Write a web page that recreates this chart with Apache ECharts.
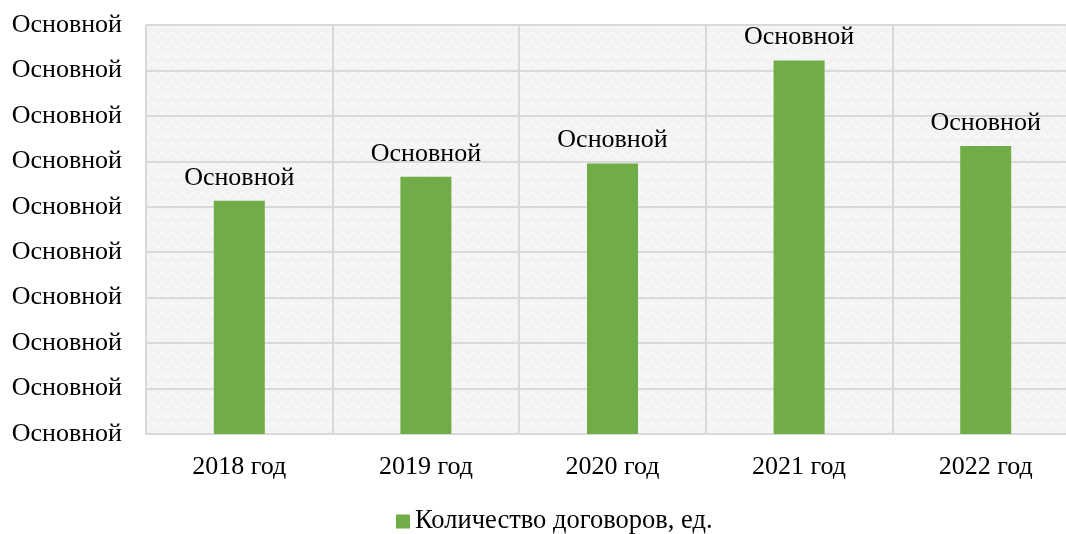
<!DOCTYPE html>
<html>
<head>
<meta charset="utf-8">
<script src="https://cdn.jsdelivr.net/npm/echarts@6/dist/echarts.min.js"></script>
<style>
    html, body { margin: 0; padding: 0; background: #fff; }
    #main { width: 1066px; height: 534px; }
</style>
</head>
<body>
<div id="main"></div>
<script>
    // данные
    var categories = ['2018 год', '2019 год', '2020 год', '2021 год', '2022 год'];
    var contracts = [5.13, 5.66, 5.95, 8.22, 6.34];
    var yTickLabels = ['Основной', 'Основной', 'Основной', 'Основной', 'Основной',
                       'Основной', 'Основной', 'Основной', 'Основной', 'Основной'];
    var barLabel = 'Основной';
    var seriesName = 'Количество договоров, ед.';

    // текстура фона
    var tex = document.createElement('canvas');
    tex.width = 10; tex.height = 10;
    var c = tex.getContext('2d');
    c.fillStyle = '#f3f3f3';
    c.fillRect(0, 0, 10, 10);
    c.strokeStyle = '#f9f9f9';
    c.lineWidth = 1.5;
    c.beginPath();
    c.moveTo(0, 5); c.quadraticCurveTo(2.5, 0, 5, 5); c.quadraticCurveTo(7.5, 10, 10, 5);
    c.stroke();

    var myChart = echarts.init(document.getElementById('main'));
    var font = 'Liberation Serif';
    var option = {
        textStyle: { fontFamily: font },
        grid: {
            left: 146, right: -13, top: 25, bottom: 100,
            outerBoundsMode: 'none',
            show: true,
            backgroundColor: { image: tex, repeat: 'repeat' },
            borderColor: '#d9d9d9',
            borderWidth: 1
        },
        legend: {
            bottom: -6,
            left: 391,
            itemWidth: 14, itemHeight: 14,
            itemGap: 6,
            icon: 'rect',
            textStyle: { fontFamily: font, fontSize: 26.5, color: '#000' },
            data: [seriesName]
        },
        xAxis: {
            type: 'category',
            data: categories,
            axisLine: { show: true, lineStyle: { color: '#d9d9d9' } },
            axisTick: { show: false },
            splitLine: { show: true, lineStyle: { color: '#d9d9d9', width: 2 } },
            axisLabel: { fontFamily: font, fontSize: 26, color: '#000', margin: 20 }
        },
        yAxis: {
            type: 'value',
            min: 0, max: 9, interval: 1,
            axisLine: { show: false },
            axisTick: { show: false },
            splitLine: { show: true, lineStyle: { color: '#d9d9d9', width: 2 } },
            axisLabel: {
                fontFamily: font, fontSize: 26, color: '#000', margin: 24,
                formatter: function (v) { return yTickLabels[Math.round(v)]; }
            }
        },
        series: [{
            name: seriesName,
            type: 'bar',
            data: contracts,
            barWidth: 51,
            itemStyle: { color: '#70ad47' },
            label: {
                show: true,
                position: 'top',
                distance: 10,
                fontFamily: font, fontSize: 26, color: '#000',
                formatter: barLabel
            }
        }]
    };
    myChart.setOption(option);
</script>
</body>
</html>
